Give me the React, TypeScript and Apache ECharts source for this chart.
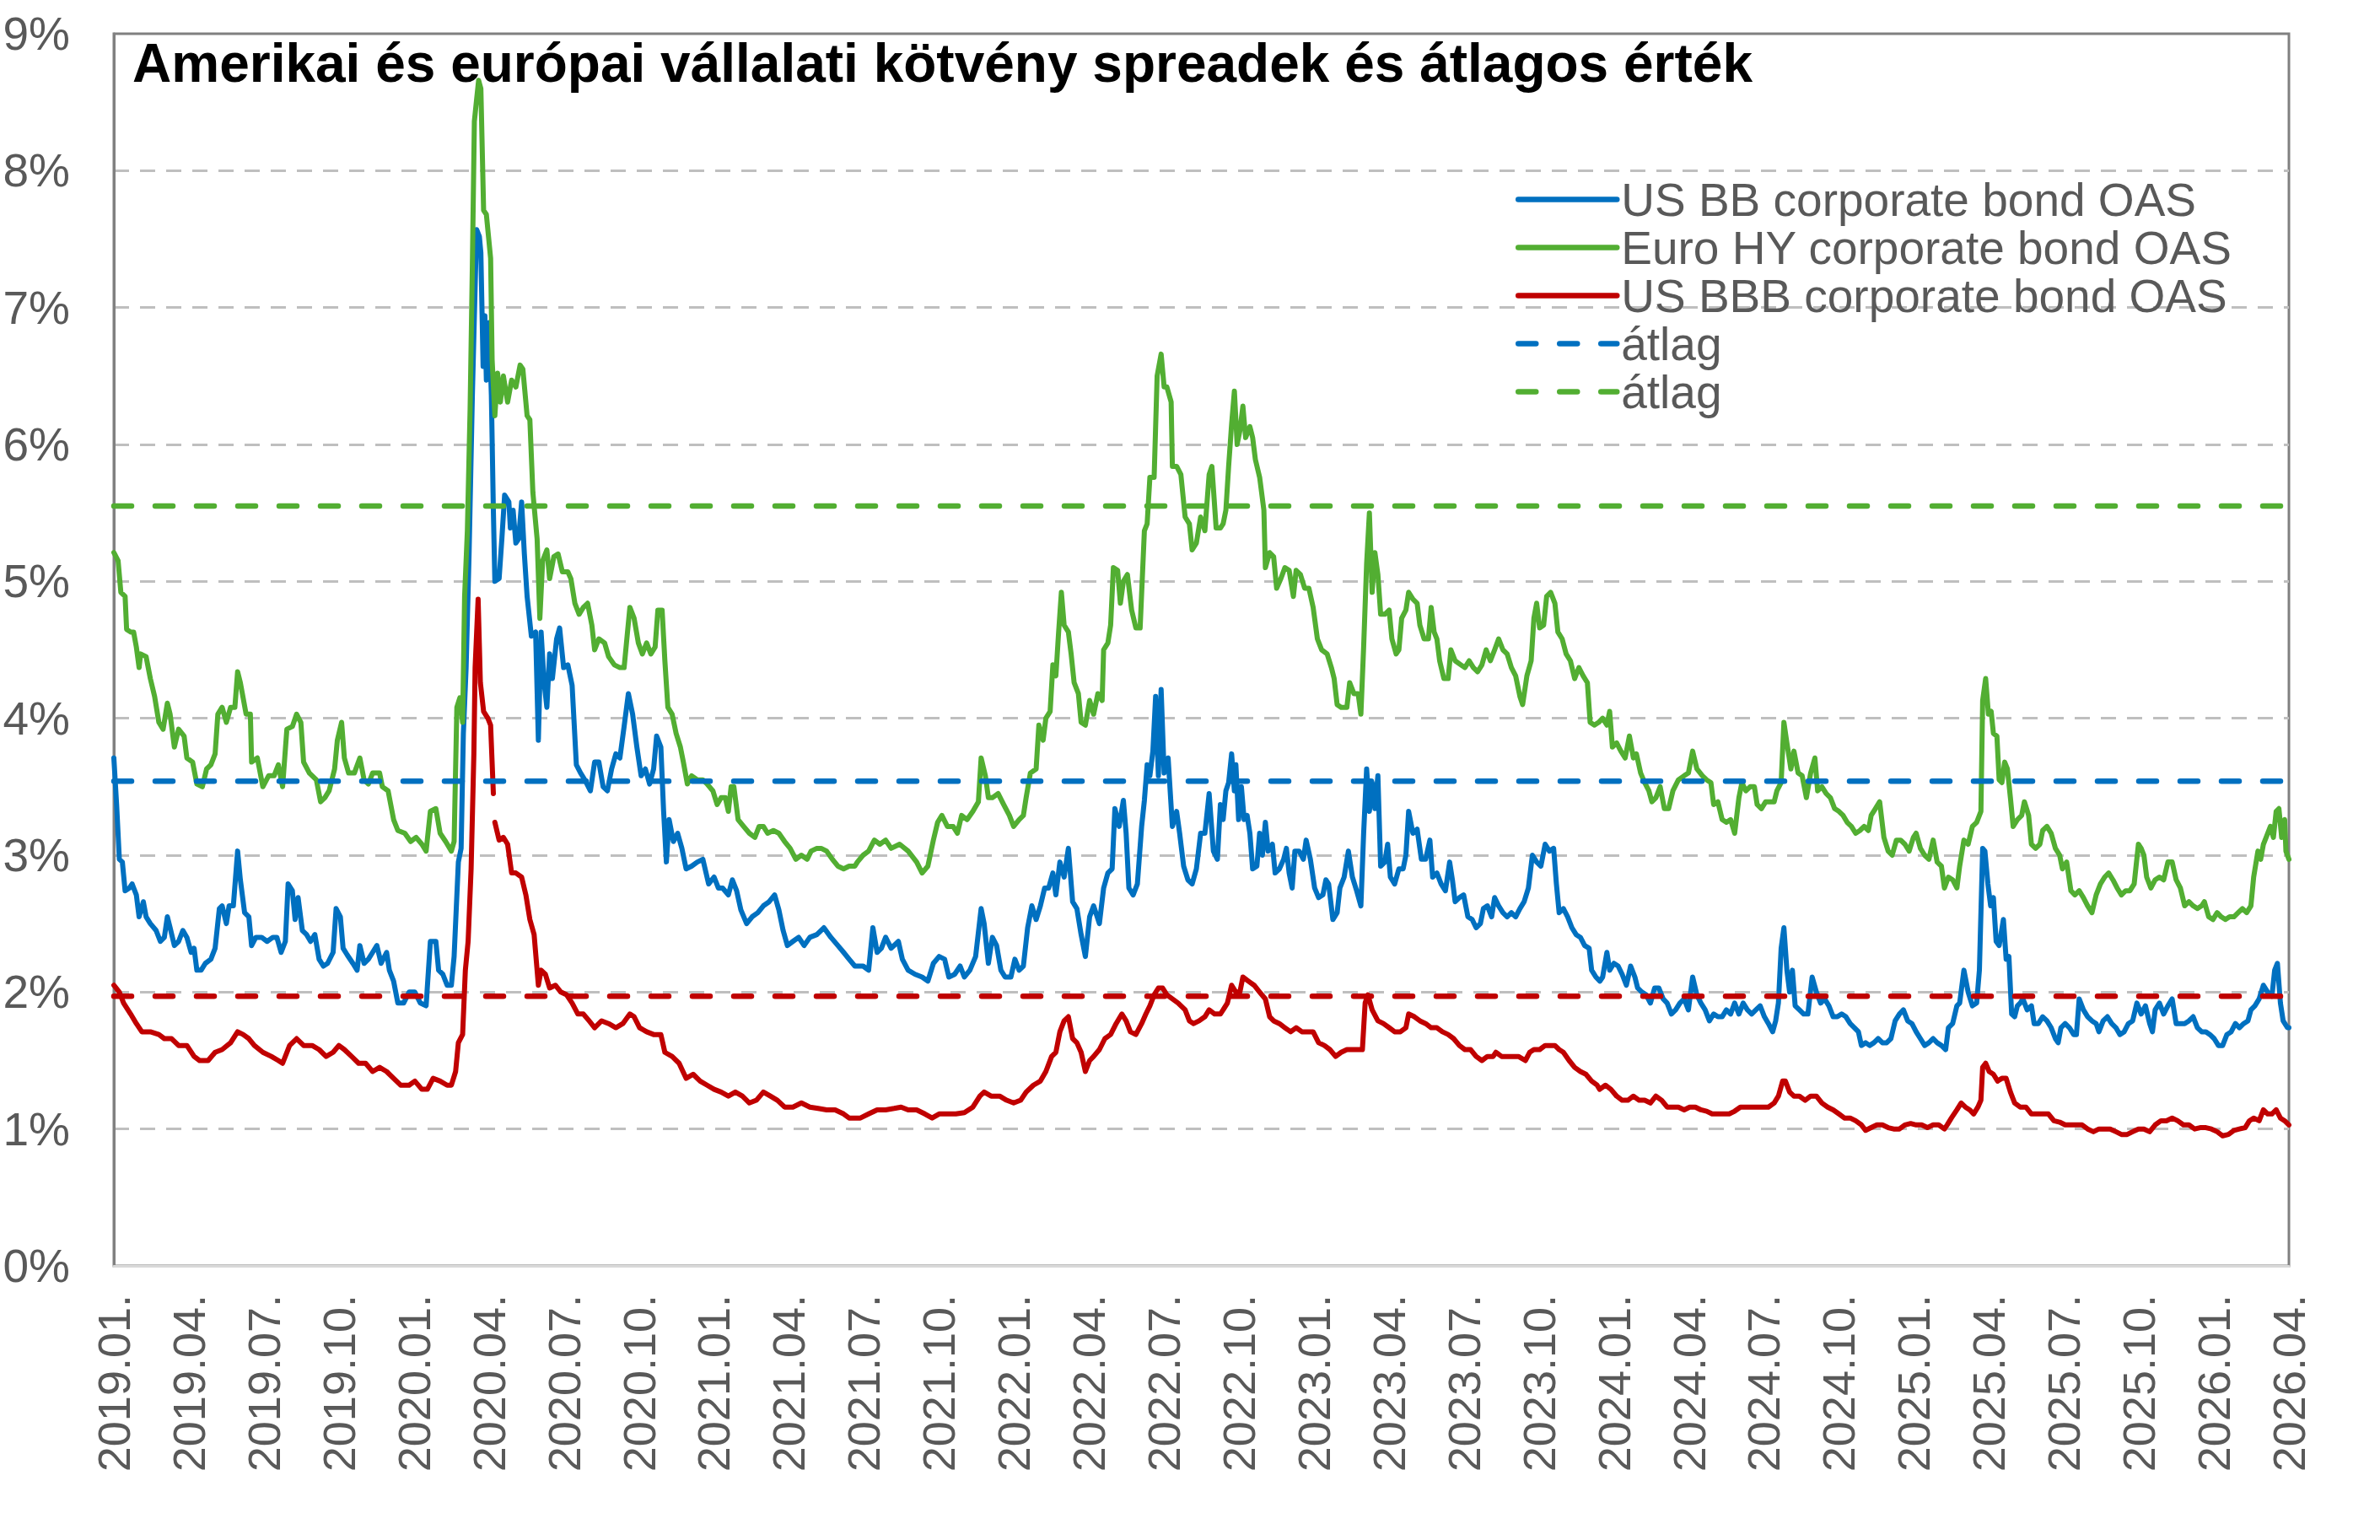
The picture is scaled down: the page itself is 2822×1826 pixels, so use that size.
import React, { useEffect, useRef } from 'react';
import * as echarts from 'echarts';

const TITLE = 'Amerikai és európai vállalati kötvény spreadek és átlagos érték';
const FONT = '"Liberation Sans", Arial, Helvetica, sans-serif';

const BLUE = '#0070C0';
const GREEN = '#52AE32';
const RED = '#C00000';
const TEXT_GREY = '#595959';

// x values are months elapsed since 2019-01-01, one tick label per quarter
const quarterLabels = [
  '2019.01.', '2019.04.', '2019.07.', '2019.10.',
  '2020.01.', '2020.04.', '2020.07.', '2020.10.',
  '2021.01.', '2021.04.', '2021.07.', '2021.10.',
  '2022.01.', '2022.04.', '2022.07.', '2022.10.',
  '2023.01.', '2023.04.', '2023.07.', '2023.10.',
  '2024.01.', '2024.04.', '2024.07.', '2024.10.',
  '2025.01.', '2025.04.', '2025.07.', '2025.10.',
  '2026.01.', '2026.04.',
];

const seriesNames = [
  'US BB corporate bond OAS',
  'Euro HY corporate bond OAS',
  'US BBB corporate bond OAS',
  'átlag',
  'átlag ',
];

// Averages over the whole period (%)
const avgUsBB = 3.54;
const avgEuroHY = 5.55;
const avgUsBBB = 1.97;

// US BB corporate bond OAS (%)
const usBB: [number, number][] = [
  [0.00,3.71],[0.11,3.37],[0.22,2.97],[0.34,2.95],[0.45,2.74],[0.62,2.76],[0.73,2.79],[0.90,2.71],[1.01,2.55],[1.18,2.66],
  [1.29,2.55],[1.46,2.50],[1.69,2.45],[1.86,2.37],[2.02,2.40],[2.14,2.55],[2.25,2.47],[2.42,2.34],[2.59,2.37],[2.76,2.45],
  [2.92,2.40],[3.09,2.29],[3.21,2.32],[3.32,2.16],[3.49,2.16],[3.66,2.21],[3.88,2.24],[4.05,2.32],[4.22,2.61],[4.33,2.63],
  [4.50,2.50],[4.61,2.63],[4.78,2.63],[4.95,3.03],[5.06,2.82],[5.23,2.58],[5.40,2.55],[5.51,2.34],[5.68,2.40],[5.91,2.40],
  [6.13,2.37],[6.36,2.40],[6.52,2.40],[6.69,2.29],[6.86,2.37],[6.97,2.79],[7.14,2.74],[7.25,2.53],[7.37,2.69],[7.54,2.45],
  [7.71,2.42],[7.87,2.37],[8.04,2.42],[8.21,2.24],[8.38,2.19],[8.55,2.21],[8.77,2.29],[8.89,2.61],[9.06,2.55],[9.17,2.32],
  [9.34,2.27],[9.56,2.21],[9.73,2.16],[9.84,2.34],[10.01,2.21],[10.18,2.24],[10.35,2.29],[10.52,2.34],[10.69,2.21],[10.91,2.29],
  [11.02,2.16],[11.19,2.08],[11.36,1.92],[11.59,1.92],[11.81,2.00],[12.04,2.00],[12.26,1.92],[12.49,1.90],[12.66,2.37],[12.88,2.37],
  [12.99,2.16],[13.16,2.13],[13.33,2.05],[13.50,2.05],[13.61,2.26],[13.78,2.95],[13.89,3.05],[13.98,3.89],[14.09,4.37],[14.21,5.21],
  [14.34,6.36],[14.45,7.15],[14.51,7.57],[14.62,7.52],[14.68,7.40],[14.77,6.57],[14.84,6.94],[14.90,6.47],[15.01,6.89],[15.10,6.36],
  [15.18,5.52],[15.24,5.00],[15.41,5.02],[15.52,5.31],[15.63,5.63],[15.80,5.58],[15.86,5.39],[15.97,5.52],[16.08,5.28],[16.19,5.31],
  [16.31,5.58],[16.42,5.20],[16.53,4.89],[16.70,4.60],[16.87,4.63],[16.98,3.84],[17.09,4.63],[17.21,4.26],[17.32,4.08],[17.43,4.47],
  [17.54,4.29],[17.71,4.58],[17.83,4.66],[17.99,4.37],[18.16,4.39],[18.33,4.24],[18.50,3.66],[18.67,3.60],[18.84,3.55],[19.06,3.47],
  [19.23,3.68],[19.40,3.68],[19.57,3.50],[19.74,3.47],[19.91,3.63],[20.08,3.74],[20.24,3.71],[20.41,3.94],[20.58,4.18],[20.75,4.03],
  [20.92,3.79],[21.09,3.58],[21.26,3.63],[21.43,3.52],[21.59,3.63],[21.71,3.87],[21.88,3.79],[21.99,3.32],[22.10,2.95],[22.21,3.26],
  [22.38,3.10],[22.55,3.16],[22.72,3.05],[22.89,2.90],[23.11,2.92],[23.34,2.95],[23.56,2.97],[23.79,2.79],[24.01,2.84],[24.18,2.76],
  [24.35,2.76],[24.58,2.71],[24.74,2.82],[24.91,2.74],[25.08,2.60],[25.31,2.50],[25.53,2.55],[25.76,2.58],[25.98,2.63],[26.21,2.66],
  [26.43,2.71],[26.60,2.60],[26.77,2.45],[26.94,2.34],[27.16,2.37],[27.39,2.40],[27.61,2.34],[27.84,2.40],[28.12,2.42],[28.40,2.47],
  [28.68,2.40],[28.96,2.34],[29.19,2.29],[29.41,2.24],[29.64,2.19],[29.74,2.19],[29.97,2.19],[30.19,2.16],[30.36,2.47],[30.53,2.29],
  [30.70,2.32],[30.87,2.40],[31.09,2.32],[31.38,2.37],[31.54,2.24],[31.77,2.16],[32.05,2.13],[32.33,2.11],[32.56,2.08],[32.78,2.21],
  [33.01,2.26],[33.23,2.24],[33.40,2.11],[33.63,2.13],[33.85,2.19],[34.02,2.11],[34.24,2.16],[34.47,2.26],[34.69,2.61],[34.81,2.50],
  [34.98,2.21],[35.14,2.40],[35.31,2.34],[35.48,2.16],[35.65,2.11],[35.88,2.11],[36.04,2.24],[36.21,2.16],[36.38,2.19],[36.55,2.47],
  [36.72,2.63],[36.89,2.53],[37.06,2.63],[37.23,2.76],[37.39,2.76],[37.56,2.87],[37.68,2.71],[37.84,2.95],[38.01,2.84],[38.18,3.05],
  [38.35,2.66],[38.52,2.61],[38.69,2.42],[38.86,2.26],[39.03,2.55],[39.19,2.63],[39.42,2.50],[39.59,2.76],[39.76,2.87],[39.93,2.90],
  [40.04,3.34],[40.21,3.21],[40.38,3.40],[40.49,3.16],[40.60,2.76],[40.77,2.71],[40.94,2.79],[41.11,3.21],[41.22,3.40],[41.33,3.66],
  [41.44,3.58],[41.56,3.76],[41.67,4.16],[41.78,3.58],[41.89,4.21],[42.01,3.60],[42.17,3.71],[42.34,3.21],[42.51,3.32],[42.63,3.16],
  [42.79,2.92],[42.96,2.82],[43.13,2.79],[43.30,2.90],[43.47,3.16],[43.64,3.16],[43.81,3.45],[43.98,3.03],[44.14,2.97],[44.26,3.37],
  [44.37,3.26],[44.48,3.47],[44.59,3.53],[44.71,3.74],[44.82,3.47],[44.88,3.66],[44.99,3.26],[45.10,3.50],[45.21,3.26],[45.33,3.29],
  [45.44,3.16],[45.55,2.90],[45.72,2.92],[45.83,3.16],[45.94,3.00],[46.06,3.24],[46.17,3.03],[46.34,3.08],[46.45,2.87],[46.62,2.90],
  [46.79,2.97],[46.90,3.05],[47.01,2.87],[47.13,2.76],[47.24,3.03],[47.41,3.03],[47.58,2.97],[47.69,3.11],[47.86,2.97],[48.03,2.76],
  [48.19,2.69],[48.36,2.71],[48.48,2.82],[48.59,2.79],[48.76,2.53],[48.93,2.58],[49.04,2.76],[49.21,2.84],[49.38,3.03],[49.54,2.84],
  [49.71,2.74],[49.88,2.63],[49.99,3.16],[50.11,3.63],[50.22,3.32],[50.33,3.53],[50.44,3.34],[50.56,3.58],[50.67,2.92],[50.84,2.95],
  [50.95,3.08],[51.06,2.84],[51.23,2.79],[51.40,2.90],[51.57,2.90],[51.68,3.00],[51.79,3.32],[51.96,3.16],[52.13,3.19],[52.30,2.97],
  [52.47,2.97],[52.64,3.11],[52.75,2.84],[52.92,2.87],[53.09,2.79],[53.26,2.74],[53.43,2.95],[53.54,2.82],[53.65,2.66],[53.82,2.69],
  [53.99,2.71],[54.16,2.55],[54.33,2.53],[54.49,2.47],[54.66,2.50],[54.78,2.61],[54.94,2.63],[55.11,2.55],[55.23,2.69],[55.39,2.63],
  [55.56,2.58],[55.73,2.55],[55.90,2.58],[56.07,2.55],[56.24,2.61],[56.41,2.66],[56.58,2.76],[56.74,3.00],[56.91,2.95],[57.08,2.92],
  [57.25,3.08],[57.42,3.03],[57.59,3.05],[57.70,2.79],[57.81,2.58],[57.98,2.61],[58.15,2.55],[58.32,2.47],[58.49,2.42],[58.66,2.40],
  [58.83,2.34],[59.01,2.32],[59.11,2.16],[59.28,2.11],[59.44,2.08],[59.55,2.11],[59.72,2.29],[59.83,2.16],[60.00,2.21],[60.17,2.19],
  [60.33,2.13],[60.50,2.05],[60.67,2.19],[60.84,2.11],[60.95,2.03],[61.12,2.00],[61.29,1.98],[61.46,1.92],[61.63,2.03],[61.80,2.03],
  [61.97,1.95],[62.13,1.92],[62.30,1.84],[62.47,1.87],[62.64,1.92],[62.81,1.95],[62.98,1.87],[63.15,2.11],[63.32,1.98],[63.48,1.92],
  [63.65,1.87],[63.82,1.79],[63.99,1.84],[64.16,1.82],[64.33,1.82],[64.50,1.87],[64.67,1.84],[64.83,1.92],[65.00,1.84],[65.17,1.92],
  [65.34,1.87],[65.51,1.84],[65.68,1.87],[65.85,1.90],[66.02,1.82],[66.18,1.77],[66.35,1.71],[66.47,1.79],[66.58,1.92],[66.69,2.32],
  [66.80,2.47],[66.92,2.16],[67.03,2.00],[67.14,2.16],[67.25,1.90],[67.42,1.87],[67.59,1.84],[67.76,1.84],[67.93,2.11],[68.10,2.00],
  [68.27,1.92],[68.43,1.95],[68.60,1.90],[68.77,1.82],[68.94,1.82],[69.11,1.84],[69.28,1.82],[69.45,1.77],[69.62,1.74],[69.78,1.71],
  [69.90,1.61],[70.07,1.63],[70.23,1.61],[70.40,1.63],[70.57,1.66],[70.74,1.63],[70.91,1.63],[71.08,1.66],[71.25,1.79],[71.42,1.84],
  [71.58,1.87],[71.75,1.79],[71.92,1.77],[72.09,1.71],[72.26,1.66],[72.43,1.61],[72.60,1.63],[72.77,1.66],[72.93,1.63],[73.10,1.61],
  [73.27,1.58],[73.38,1.74],[73.55,1.77],[73.72,1.90],[73.83,1.92],[74.00,2.16],[74.17,2.00],[74.34,1.90],[74.51,1.92],[74.62,2.16],
  [74.75,3.05],[74.84,3.03],[74.96,2.79],[75.07,2.63],[75.18,2.69],[75.29,2.37],[75.41,2.34],[75.58,2.53],[75.69,2.24],[75.80,2.26],
  [75.91,1.84],[76.03,1.82],[76.14,1.90],[76.25,1.92],[76.36,1.95],[76.53,1.87],[76.70,1.90],[76.81,1.77],[76.98,1.77],[77.15,1.82],
  [77.32,1.79],[77.49,1.74],[77.66,1.66],[77.77,1.63],[77.88,1.74],[78.05,1.77],[78.22,1.74],[78.39,1.69],[78.50,1.69],[78.61,1.95],
  [78.78,1.87],[78.95,1.82],[79.12,1.79],[79.29,1.77],[79.40,1.71],[79.57,1.79],[79.74,1.82],[79.91,1.77],[80.08,1.74],[80.24,1.69],
  [80.41,1.71],[80.58,1.77],[80.75,1.79],[80.92,1.92],[81.09,1.84],[81.26,1.90],[81.43,1.77],[81.54,1.71],[81.65,1.87],[81.82,1.92],
  [81.99,1.84],[82.16,1.90],[82.33,1.95],[82.49,1.77],[82.66,1.77],[82.83,1.77],[83.00,1.79],[83.17,1.82],[83.34,1.74],[83.51,1.71],
  [83.68,1.71],[83.84,1.69],[84.01,1.66],[84.18,1.61],[84.35,1.61],[84.52,1.69],[84.69,1.71],[84.86,1.77],[85.02,1.74],[85.19,1.77],
  [85.36,1.79],[85.48,1.87],[85.64,1.90],[85.81,1.95],[85.98,2.05],[86.15,2.00],[86.32,1.97],[86.43,2.16],[86.54,2.21],[86.66,1.92],
  [86.77,1.79],[86.94,1.74],[87.00,1.74],
];

// Euro HY corporate bond OAS (%)
const euroHY: [number, number][] = [
  [0.00,5.21],[0.17,5.15],[0.28,4.92],[0.45,4.89],[0.51,4.65],[0.67,4.63],[0.79,4.63],[0.90,4.52],[1.01,4.37],[1.07,4.47],
  [1.29,4.45],[1.46,4.29],[1.63,4.16],[1.80,3.97],[1.97,3.92],[2.14,4.11],[2.25,4.03],[2.42,3.79],[2.59,3.92],[2.81,3.87],
  [2.92,3.71],[3.15,3.68],[3.32,3.52],[3.54,3.50],[3.71,3.63],[3.88,3.66],[4.05,3.74],[4.16,4.03],[4.33,4.08],[4.50,3.97],
  [4.67,4.08],[4.84,4.08],[4.95,4.34],[5.06,4.26],[5.29,4.03],[5.46,4.03],[5.51,3.68],[5.74,3.71],[5.96,3.50],[6.19,3.58],
  [6.41,3.58],[6.58,3.66],[6.75,3.50],[6.92,3.92],[7.14,3.94],[7.31,4.03],[7.48,3.97],[7.59,3.68],[7.82,3.60],[8.10,3.55],
  [8.27,3.39],[8.44,3.42],[8.61,3.47],[8.83,3.63],[8.94,3.84],[9.11,3.97],[9.22,3.71],[9.39,3.60],[9.62,3.60],[9.84,3.71],
  [10.01,3.55],[10.18,3.52],[10.35,3.60],[10.63,3.60],[10.74,3.50],[10.97,3.47],[11.19,3.26],[11.36,3.18],[11.64,3.16],[11.87,3.10],
  [12.09,3.13],[12.32,3.08],[12.49,3.03],[12.66,3.32],[12.88,3.34],[13.05,3.16],[13.27,3.10],[13.50,3.03],[13.61,3.10],[13.72,4.08],
  [13.84,4.15],[13.95,3.97],[14.03,4.89],[14.14,5.37],[14.25,6.26],[14.34,7.31],[14.42,8.36],[14.51,8.52],[14.59,8.66],[14.68,8.60],
  [14.79,7.71],[14.90,7.68],[15.07,7.36],[15.13,6.62],[15.24,6.21],[15.35,6.52],[15.46,6.31],[15.58,6.50],[15.75,6.31],[15.91,6.47],
  [16.08,6.42],[16.25,6.58],[16.36,6.55],[16.53,6.21],[16.64,6.18],[16.76,5.65],[16.93,5.31],[17.04,4.73],[17.15,5.15],[17.32,5.23],
  [17.43,5.02],[17.60,5.18],[17.77,5.20],[17.94,5.07],[18.16,5.07],[18.28,5.02],[18.44,4.84],[18.61,4.76],[18.78,4.81],[18.95,4.84],
  [19.12,4.68],[19.23,4.50],[19.40,4.58],[19.63,4.55],[19.79,4.45],[20.02,4.39],[20.24,4.37],[20.41,4.37],[20.53,4.60],[20.64,4.81],
  [20.81,4.73],[20.98,4.55],[21.14,4.47],[21.31,4.55],[21.48,4.47],[21.65,4.52],[21.76,4.79],[21.93,4.79],[22.04,4.42],[22.16,4.08],
  [22.33,4.03],[22.49,3.89],[22.66,3.79],[22.78,3.68],[22.94,3.52],[23.11,3.58],[23.34,3.55],[23.56,3.55],[23.73,3.52],[23.96,3.47],
  [24.13,3.37],[24.29,3.42],[24.46,3.42],[24.58,3.32],[24.69,3.50],[24.80,3.50],[24.97,3.26],[25.19,3.21],[25.42,3.16],[25.64,3.13],
  [25.81,3.21],[25.98,3.21],[26.15,3.16],[26.38,3.18],[26.60,3.16],[26.83,3.10],[27.05,3.05],[27.28,2.97],[27.50,3.00],[27.73,2.97],
  [27.89,3.03],[28.12,3.05],[28.29,3.05],[28.51,3.03],[28.74,2.97],[28.96,2.92],[29.19,2.90],[29.41,2.92],[29.64,2.92],[29.74,2.95],
  [29.97,3.00],[30.19,3.03],[30.42,3.11],[30.64,3.08],[30.87,3.11],[31.09,3.05],[31.43,3.08],[31.77,3.03],[32.11,2.95],[32.33,2.87],
  [32.56,2.92],[32.78,3.11],[32.95,3.24],[33.12,3.29],[33.34,3.21],[33.57,3.21],[33.74,3.16],[33.91,3.29],[34.13,3.26],[34.36,3.32],
  [34.58,3.39],[34.69,3.71],[34.86,3.58],[34.98,3.42],[35.14,3.42],[35.37,3.45],[35.59,3.37],[35.82,3.29],[35.99,3.21],[36.21,3.26],
  [36.38,3.29],[36.49,3.42],[36.66,3.60],[36.89,3.63],[37.00,3.95],[37.17,3.84],[37.28,4.00],[37.45,4.05],[37.56,4.39],[37.68,4.31],
  [37.79,4.63],[37.90,4.92],[38.01,4.68],[38.18,4.63],[38.29,4.47],[38.41,4.26],[38.58,4.18],[38.69,3.97],[38.86,3.95],[39.03,4.13],
  [39.19,4.03],[39.36,4.18],[39.53,4.13],[39.59,4.50],[39.76,4.55],[39.87,4.68],[39.98,5.10],[40.15,5.08],[40.26,4.84],[40.38,5.00],
  [40.54,5.05],[40.71,4.79],[40.88,4.66],[41.05,4.66],[41.22,5.37],[41.33,5.42],[41.44,5.76],[41.61,5.76],[41.73,6.50],[41.89,6.66],
  [42.01,6.42],[42.12,6.42],[42.29,6.31],[42.34,5.84],[42.51,5.84],[42.68,5.78],[42.85,5.47],[43.02,5.42],[43.13,5.23],[43.30,5.28],
  [43.47,5.47],[43.64,5.37],[43.81,5.78],[43.92,5.84],[44.09,5.39],[44.26,5.39],[44.37,5.42],[44.48,5.52],[44.59,5.84],[44.71,6.15],
  [44.82,6.39],[44.93,6.00],[45.04,6.10],[45.16,6.28],[45.27,6.05],[45.44,6.13],[45.55,6.05],[45.66,5.89],[45.83,5.76],[46.00,5.52],
  [46.06,5.10],[46.23,5.21],[46.39,5.18],[46.51,4.95],[46.68,5.02],[46.84,5.10],[47.01,5.08],[47.18,4.89],[47.29,5.08],[47.46,5.05],
  [47.63,4.95],[47.80,4.95],[47.97,4.81],[48.14,4.58],[48.31,4.50],[48.53,4.47],[48.70,4.37],[48.81,4.29],[48.93,4.10],[49.09,4.08],
  [49.32,4.08],[49.43,4.26],[49.60,4.18],[49.77,4.18],[49.88,4.03],[49.99,4.52],[50.11,5.13],[50.22,5.50],[50.33,4.92],[50.44,5.21],
  [50.56,5.05],[50.67,4.76],[50.84,4.76],[51.01,4.79],[51.12,4.58],[51.29,4.47],[51.40,4.50],[51.51,4.73],[51.68,4.79],[51.79,4.92],
  [51.96,4.87],[52.13,4.84],[52.24,4.68],[52.41,4.58],[52.58,4.58],[52.69,4.81],[52.81,4.63],[52.92,4.58],[53.03,4.42],[53.20,4.29],
  [53.37,4.29],[53.48,4.50],[53.65,4.42],[53.88,4.39],[54.04,4.37],[54.21,4.42],[54.38,4.37],[54.55,4.34],[54.72,4.39],[54.89,4.50],
  [55.06,4.42],[55.23,4.50],[55.39,4.58],[55.56,4.50],[55.73,4.47],[55.90,4.37],[56.07,4.31],[56.24,4.16],[56.35,4.10],[56.52,4.31],
  [56.69,4.42],[56.80,4.73],[56.91,4.84],[57.03,4.66],[57.19,4.68],[57.31,4.89],[57.47,4.92],[57.64,4.84],[57.76,4.63],[57.93,4.58],
  [58.09,4.47],[58.26,4.42],[58.43,4.29],[58.60,4.37],[58.77,4.31],[58.94,4.26],[59.05,3.97],[59.22,3.95],[59.39,3.97],[59.55,4.00],
  [59.72,3.95],[59.83,4.05],[59.94,3.79],[60.11,3.82],[60.28,3.76],[60.45,3.71],[60.62,3.87],[60.78,3.71],[60.90,3.74],[61.07,3.60],
  [61.23,3.53],[61.40,3.47],[61.52,3.39],[61.68,3.42],[61.85,3.50],[62.02,3.34],[62.19,3.34],[62.36,3.47],[62.58,3.55],[62.81,3.58],
  [62.98,3.60],[63.15,3.76],[63.32,3.63],[63.54,3.58],[63.71,3.55],[63.88,3.53],[63.99,3.37],[64.16,3.39],[64.33,3.26],[64.50,3.24],
  [64.67,3.26],[64.83,3.16],[65.00,3.42],[65.12,3.53],[65.28,3.47],[65.45,3.50],[65.62,3.50],[65.73,3.37],[65.90,3.34],[66.07,3.39],
  [66.24,3.39],[66.41,3.39],[66.52,3.47],[66.69,3.53],[66.80,3.97],[66.92,3.82],[67.08,3.63],[67.20,3.76],[67.37,3.60],[67.53,3.58],
  [67.70,3.42],[67.87,3.60],[68.04,3.71],[68.15,3.47],[68.32,3.50],[68.49,3.45],[68.66,3.42],[68.83,3.34],[69.00,3.32],[69.17,3.29],
  [69.33,3.24],[69.50,3.21],[69.67,3.16],[69.84,3.18],[70.01,3.21],[70.18,3.18],[70.29,3.29],[70.46,3.34],[70.63,3.39],[70.80,3.13],
  [70.97,3.03],[71.13,3.00],[71.30,3.11],[71.47,3.11],[71.64,3.08],[71.81,3.03],[71.98,3.13],[72.09,3.16],[72.26,3.05],[72.43,3.00],
  [72.60,2.97],[72.77,3.11],[72.93,2.95],[73.10,2.92],[73.22,2.76],[73.38,2.84],[73.55,2.82],[73.72,2.76],[73.83,2.92],[74.00,3.11],
  [74.17,3.08],[74.34,3.21],[74.51,3.24],[74.68,3.32],[74.75,4.13],[74.87,4.29],[74.98,4.03],[75.09,4.05],[75.18,3.89],[75.32,3.87],
  [75.41,3.55],[75.52,3.53],[75.63,3.68],[75.74,3.63],[75.86,3.42],[75.97,3.21],[76.14,3.26],[76.31,3.29],[76.42,3.39],[76.59,3.29],
  [76.70,3.08],[76.87,3.05],[77.04,3.08],[77.15,3.18],[77.32,3.21],[77.49,3.16],[77.66,3.05],[77.83,3.00],[77.94,2.90],[78.11,2.95],
  [78.28,2.74],[78.44,2.71],[78.61,2.74],[78.78,2.69],[78.95,2.63],[79.12,2.58],[79.29,2.71],[79.46,2.79],[79.63,2.84],[79.79,2.87],
  [79.96,2.82],[80.13,2.76],[80.30,2.71],[80.47,2.74],[80.64,2.74],[80.81,2.79],[80.98,3.08],[81.09,3.05],[81.20,3.00],[81.31,2.84],
  [81.48,2.76],[81.65,2.82],[81.82,2.84],[81.99,2.82],[82.16,2.95],[82.33,2.95],[82.49,2.82],[82.66,2.76],[82.83,2.63],[83.00,2.66],
  [83.17,2.63],[83.34,2.61],[83.51,2.63],[83.62,2.66],[83.79,2.55],[83.96,2.53],[84.13,2.58],[84.29,2.55],[84.46,2.53],[84.63,2.55],
  [84.80,2.55],[84.97,2.58],[85.14,2.61],[85.31,2.58],[85.48,2.63],[85.59,2.84],[85.76,3.03],[85.87,2.97],[85.98,3.08],[86.09,3.13],
  [86.26,3.21],[86.38,3.13],[86.49,3.32],[86.60,3.34],[86.71,3.13],[86.83,3.26],[86.88,3.03],[87.00,2.97],
];

// US BBB corporate bond OAS (%); null marks a break in the data
const usBBB: [number, number | null][] = [
  [0.00,2.05],[0.22,2.00],[0.39,1.92],[0.67,1.84],[0.90,1.77],[1.12,1.71],[1.46,1.71],[1.80,1.69],[2.02,1.66],[2.31,1.66],
  [2.59,1.61],[2.92,1.61],[3.21,1.53],[3.43,1.50],[3.77,1.50],[4.05,1.56],[4.33,1.58],[4.67,1.63],[4.95,1.71],[5.17,1.69],
  [5.40,1.66],[5.62,1.61],[5.96,1.56],[6.30,1.53],[6.58,1.50],[6.75,1.48],[7.03,1.61],[7.31,1.66],[7.59,1.61],[7.93,1.61],
  [8.21,1.58],[8.49,1.53],[8.77,1.56],[9.00,1.61],[9.22,1.58],[9.51,1.53],[9.79,1.48],[10.07,1.48],[10.35,1.42],[10.63,1.45],
  [10.91,1.42],[11.19,1.37],[11.47,1.32],[11.81,1.32],[12.04,1.35],[12.32,1.29],[12.54,1.29],[12.77,1.37],[13.05,1.35],[13.33,1.32],
  [13.50,1.32],[13.67,1.42],[13.78,1.63],[13.95,1.69],[14.06,2.16],[14.17,2.37],[14.29,2.90],[14.40,3.74],[14.45,4.37],[14.57,4.87],
  [14.66,4.26],[14.79,4.05],[14.96,4.00],[15.07,3.95],[15.18,3.45],[15.21,null],[15.24,3.24],[15.41,3.11],[15.58,3.13],[15.75,3.08],
  [15.91,2.87],[16.08,2.87],[16.31,2.84],[16.48,2.71],[16.64,2.53],[16.81,2.42],[16.98,2.05],[17.09,2.16],[17.26,2.13],[17.43,2.03],
  [17.66,2.05],[17.88,2.00],[18.11,1.98],[18.33,1.92],[18.56,1.84],[18.78,1.84],[19.01,1.79],[19.23,1.74],[19.51,1.79],[19.79,1.77],
  [20.08,1.74],[20.36,1.77],[20.64,1.84],[20.81,1.82],[21.03,1.74],[21.31,1.71],[21.59,1.69],[21.88,1.69],[22.04,1.56],[22.33,1.53],
  [22.61,1.48],[22.89,1.37],[23.17,1.40],[23.45,1.35],[23.73,1.32],[24.01,1.29],[24.29,1.27],[24.58,1.24],[24.86,1.27],[25.14,1.24],
  [25.42,1.19],[25.70,1.21],[25.98,1.27],[26.26,1.24],[26.54,1.21],[26.83,1.16],[27.16,1.16],[27.50,1.19],[27.84,1.16],[28.17,1.15],
  [28.51,1.14],[28.85,1.14],[29.19,1.11],[29.41,1.08],[29.64,1.08],[29.86,1.08],[30.19,1.11],[30.53,1.14],[30.87,1.14],[31.21,1.15],
  [31.49,1.16],[31.77,1.14],[32.11,1.14],[32.44,1.11],[32.73,1.08],[33.01,1.11],[33.34,1.11],[33.68,1.11],[34.02,1.12],[34.36,1.16],
  [34.64,1.24],[34.81,1.27],[35.09,1.24],[35.43,1.24],[35.71,1.21],[35.99,1.19],[36.27,1.21],[36.49,1.27],[36.78,1.32],[37.06,1.35],
  [37.28,1.42],[37.51,1.53],[37.68,1.56],[37.84,1.71],[38.01,1.79],[38.18,1.82],[38.35,1.66],[38.52,1.63],[38.69,1.56],[38.86,1.42],
  [39.03,1.50],[39.19,1.53],[39.42,1.58],[39.64,1.66],[39.87,1.69],[40.09,1.77],[40.32,1.84],[40.49,1.79],[40.66,1.71],[40.88,1.69],
  [41.11,1.77],[41.28,1.84],[41.44,1.90],[41.61,1.98],[41.78,2.03],[41.95,2.03],[42.12,1.98],[42.34,1.95],[42.57,1.92],[42.85,1.87],
  [43.02,1.79],[43.19,1.77],[43.41,1.79],[43.64,1.82],[43.81,1.87],[44.03,1.84],[44.26,1.84],[44.37,1.87],[44.54,1.92],[44.71,2.05],
  [44.88,2.00],[45.04,2.00],[45.16,2.11],[45.38,2.08],[45.61,2.05],[45.83,2.00],[46.06,1.95],[46.23,1.82],[46.39,1.79],[46.62,1.77],
  [46.84,1.74],[47.07,1.71],[47.29,1.74],[47.52,1.71],[47.74,1.71],[47.97,1.71],[48.19,1.63],[48.42,1.61],[48.64,1.58],[48.87,1.53],
  [49.09,1.56],[49.32,1.58],[49.54,1.58],[49.77,1.58],[49.94,1.58],[50.05,1.92],[50.16,1.98],[50.33,1.87],[50.56,1.79],[50.78,1.77],
  [51.01,1.74],[51.23,1.71],[51.46,1.71],[51.68,1.74],[51.79,1.84],[52.02,1.82],[52.24,1.79],[52.47,1.77],[52.69,1.74],[52.92,1.74],
  [53.14,1.71],[53.37,1.69],[53.59,1.66],[53.82,1.61],[54.04,1.58],[54.27,1.58],[54.49,1.53],[54.72,1.50],[54.94,1.53],[55.17,1.53],
  [55.28,1.56],[55.51,1.53],[55.73,1.53],[55.96,1.53],[56.18,1.53],[56.46,1.50],[56.63,1.56],[56.80,1.58],[57.03,1.58],[57.25,1.61],
  [57.42,1.61],[57.64,1.61],[57.81,1.58],[57.98,1.56],[58.21,1.50],[58.43,1.45],[58.66,1.42],[58.88,1.40],[59.11,1.35],[59.33,1.32],
  [59.43,1.29],[59.66,1.32],[59.88,1.29],[60.11,1.24],[60.33,1.21],[60.56,1.21],[60.78,1.24],[61.01,1.21],[61.23,1.21],[61.46,1.19],
  [61.68,1.24],[61.91,1.21],[62.13,1.16],[62.36,1.16],[62.58,1.16],[62.81,1.14],[63.03,1.16],[63.26,1.16],[63.48,1.14],[63.71,1.13],
  [63.93,1.11],[64.16,1.11],[64.38,1.11],[64.61,1.11],[64.83,1.13],[65.06,1.16],[65.28,1.16],[65.51,1.16],[65.73,1.16],[65.96,1.16],
  [66.18,1.16],[66.41,1.19],[66.58,1.24],[66.75,1.35],[66.86,1.35],[67.03,1.27],[67.20,1.24],[67.42,1.24],[67.65,1.21],[67.87,1.24],
  [68.10,1.24],[68.32,1.19],[68.55,1.16],[68.77,1.14],[69.00,1.11],[69.22,1.08],[69.45,1.08],[69.67,1.06],[69.90,1.03],[70.07,0.99],
  [70.29,1.01],[70.52,1.03],[70.74,1.03],[70.97,1.01],[71.19,1.00],[71.42,1.00],[71.64,1.03],[71.87,1.04],[72.09,1.03],[72.31,1.03],
  [72.54,1.01],[72.77,1.03],[72.99,1.03],[73.22,1.00],[73.33,1.03],[73.50,1.08],[73.72,1.14],[73.89,1.19],[74.06,1.16],[74.23,1.14],
  [74.39,1.11],[74.56,1.16],[74.68,1.21],[74.75,1.45],[74.87,1.48],[75.01,1.42],[75.18,1.40],[75.35,1.35],[75.52,1.37],[75.69,1.37],
  [75.86,1.27],[76.03,1.19],[76.25,1.16],[76.48,1.16],[76.70,1.11],[76.93,1.11],[77.15,1.11],[77.38,1.11],[77.60,1.06],[77.83,1.05],
  [78.05,1.03],[78.28,1.03],[78.50,1.03],[78.73,1.03],[78.95,1.00],[79.18,0.98],[79.40,1.00],[79.63,1.00],[79.85,1.00],[80.08,0.98],
  [80.30,0.96],[80.53,0.96],[80.75,0.98],[80.98,1.00],[81.20,1.00],[81.43,0.98],[81.65,1.03],[81.88,1.06],[82.10,1.06],[82.33,1.08],
  [82.55,1.06],[82.78,1.03],[83.00,1.03],[83.23,1.00],[83.45,1.01],[83.68,1.01],[83.90,1.00],[84.13,0.98],[84.35,0.95],[84.58,0.96],
  [84.80,0.99],[85.02,1.00],[85.25,1.01],[85.42,1.06],[85.59,1.08],[85.81,1.06],[85.98,1.14],[86.15,1.11],[86.32,1.11],[86.49,1.14],
  [86.66,1.08],[86.83,1.06],[87.00,1.03],
];

const X_MIN = 0;
const X_MAX = 87;

function flatLine(value: number): [number, number][] {
  return [[X_MIN, value], [X_MAX, value]];
}

function buildOption(): echarts.EChartsOption {
  const solid = (name: string, color: string, data: any[], z: number) => ({
    name,
    type: 'line',
    data,
    showSymbol: false,
    symbol: 'none',
    connectNulls: false,
    z,
    lineStyle: { color, width: 6, join: 'round', cap: 'round' },
    itemStyle: { color },
    emphasis: { disabled: true },
  });
  const dashed = (name: string, color: string, value: number, z: number) => ({
    name,
    type: 'line',
    data: flatLine(value),
    showSymbol: false,
    symbol: 'none',
    z,
    lineStyle: { color, width: 6.5, type: [21, 28], cap: 'round' },
    itemStyle: { color },
    emphasis: { disabled: true },
  });

  return {
    animation: false,
    backgroundColor: '#ffffff',
    textStyle: { fontFamily: FONT },
    grid: {
      left: 135,
      right: 108,
      top: 40,
      bottom: 325,
      show: true,
      borderColor: '#808080',
      borderWidth: 3,
      backgroundColor: 'transparent',
    },
    legend: {
      data: seriesNames,
      orient: 'vertical',
      left: 1792,
      top: 203,
      itemWidth: 117,
      itemHeight: 16,
      itemGap: 0,
      selectedMode: false,
      itemStyle: { opacity: 0 },
      lineStyle: { width: 6.5 },
      textStyle: {
        fontFamily: FONT,
        fontSize: 55,
        color: TEXT_GREY,
        lineHeight: 57,
      },
    },
    xAxis: {
      type: 'value',
      min: X_MIN,
      max: X_MAX,
      interval: 3,
      axisLine: { show: true, lineStyle: { color: '#d9d9d9', width: 3 } },
      axisTick: { show: false },
      splitLine: { show: false },
      axisLabel: {
        rotate: 90,
        margin: 34,
        fontFamily: FONT,
        fontSize: 54,
        color: TEXT_GREY,
        formatter: (v: number) => quarterLabels[Math.round(v / 3)] ?? '',
      },
    },
    yAxis: {
      type: 'value',
      min: 0,
      max: 9,
      interval: 1,
      axisLine: { show: true, lineStyle: { color: '#808080', width: 3 } },
      axisTick: { show: false },
      splitLine: {
        show: true,
        showMinLine: false,
        showMaxLine: false,
        lineStyle: { color: '#bfbfbf', width: 3, type: [18, 13] },
      },
      axisLabel: {
        margin: 52,
        fontFamily: FONT,
        fontSize: 55,
        color: TEXT_GREY,
        formatter: '{value}%',
      },
    },
    graphic: [
      {
        type: 'text',
        x: 157,
        y: 75,
        z: 100,
        style: {
          text: TITLE,
          fontFamily: FONT,
          fontSize: 64,
          fontWeight: 'bold',
          fill: '#000000',
          align: 'left',
          verticalAlign: 'middle',
        },
      },
    ],
    series: [
      solid(seriesNames[0], BLUE, usBB, 2),
      solid(seriesNames[1], GREEN, euroHY, 3),
      solid(seriesNames[2], RED, usBBB.map(([x, y]) => [x, y === null ? '-' : y]), 4),
      dashed(seriesNames[3], BLUE, avgUsBB, 5),
      dashed(seriesNames[4], GREEN, avgEuroHY, 5),
      dashed('US BBB átlag', RED, avgUsBBB, 5),
    ] as any,
  };
}

export default function App() {
  const ref = useRef<HTMLDivElement>(null);

  useEffect(() => {
    if (!ref.current) return;
    const chart = echarts.init(ref.current, null, { renderer: 'svg' });
    chart.setOption(buildOption());
    return () => chart.dispose();
  }, []);

  return (
    <div
      ref={ref}
      style={{ position: 'absolute', left: 0, top: 0, width: 2822, height: 1826, background: '#ffffff' }}
    />
  );
}
